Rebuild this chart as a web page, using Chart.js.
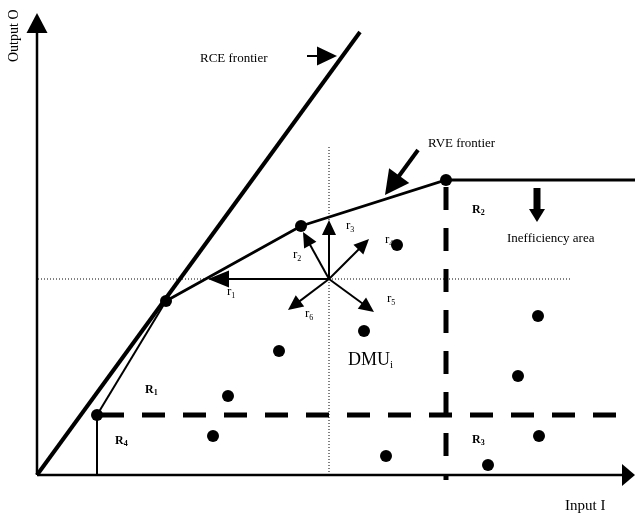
<!DOCTYPE html>
<html>
<head>
<meta charset="utf-8">
<script src="https://cdn.jsdelivr.net/npm/chart.js@4.4.0/dist/chart.umd.min.js"></script>
<style>
  html, body { margin: 0; padding: 0; background: #fff; }
  #wrap { width: 635px; height: 514px; position: relative; }
</style>
</head>
<body>
<div id="wrap"><canvas id="dea"></canvas></div>
<script>
// Données du graphique (unités d'input / output)
const dmuX = [360, 327, 501, 242, 191, 176, 481, 502, 349, 451];
const dmuY = [230, 144, 159, 124, 79, 39, 99, 39, 19, 10];

const vrsX = [60, 129, 264, 409, 598];
const vrsY = [60, 174, 249, 295, 295];
const vrsEfficientX = [60, 129, 264, 409];
const vrsEfficientY = [60, 174, 249, 295];

const crsX = [0, 323];
const crsY = [0, 443];

const dmuCenter = [292, 196];
const dirTipX = [171, 266, 292, 332, 337, 251];
const dirTipY = [196, 243, 255, 236, 163, 165];
const dirNames = ['1', '2', '3', '4', '5', '6'];

// limites des régions
const regionInputLimit = 409;
const regionOutputLimit = 60;

function pts(xs, ys) {
    return xs.map((x, i) => ({ x: x, y: ys[i] }));
}

const black = '#000';

function lineSet(data, width, extra) {
    return Object.assign({
        data: data,
        showLine: true,
        borderColor: black,
        backgroundColor: black,
        borderWidth: width,
        pointRadius: 0,
        pointHoverRadius: 0,
        fill: false,
        tension: 0,
        clip: false
    }, extra || {});
}

const datasets = [];

// points (dessinés au-dessus)
datasets.push({
    data: pts(dmuX, dmuY),
    pointRadius: 6,
    pointBackgroundColor: black,
    pointBorderWidth: 0,
    clip: false
});
datasets.push({
    data: pts(vrsEfficientX, vrsEfficientY),
    pointRadius: 6,
    pointBackgroundColor: black,
    pointBorderWidth: 0,
    clip: false
});

// axes
datasets.push(lineSet([{ x: 0, y: 0 }, { x: 598, y: 0 }], 2.5, { arrow: { len: 13, w: 22 } }));
datasets.push(lineSet([{ x: 0, y: 0 }, { x: 0, y: 462 }], 2.5, { arrow: { len: 20, w: 21 } }));

// frontières
datasets.push(lineSet(pts(crsX, crsY), 4));
datasets.push(lineSet(pts(vrsX.slice(0, 2), vrsY.slice(0, 2)), 2));
datasets.push(lineSet(pts(vrsX.slice(1), vrsY.slice(1)), 2.8));
datasets.push(lineSet([{ x: vrsX[0], y: vrsY[0] }, { x: vrsX[0], y: 0 }], 2));

// limites des régions (tirets)
datasets.push(lineSet([{ x: 64, y: regionOutputLimit }, { x: 585, y: regionOutputLimit }], 5, { borderDash: [23, 18] }));
datasets.push(lineSet([{ x: regionInputLimit, y: 288 }, { x: regionInputLimit, y: -5 }], 5, { borderDash: [23, 18] }));

// pointillés passant par DMUi
datasets.push(lineSet([{ x: 1, y: dmuCenter[1] }, { x: 535, y: dmuCenter[1] }], 1, { borderDash: [1, 2] }));
datasets.push(lineSet([{ x: dmuCenter[0], y: 328 }, { x: dmuCenter[0], y: 0 }], 1, { borderDash: [1, 2] }));

// directions r1..r6
dirTipX.forEach((tx, i) => {
    const big = i === 0;
    datasets.push(lineSet([{ x: dmuCenter[0], y: dmuCenter[1] }, { x: tx, y: dirTipY[i] }], 2,
        { arrow: big ? { len: 21, w: 17 } : { len: 15, w: 14 } }));
});

// flèches d'annotation
datasets.push(lineSet([{ x: 270, y: 419 }, { x: 300, y: 419 }], 2, { arrow: { len: 20, w: 19 } }));
datasets.push(lineSet([{ x: 381, y: 325 }, { x: 348, y: 280 }], 4, { arrow: { len: 24, w: 25 } }));
datasets.push(lineSet([{ x: 500, y: 287 }, { x: 500, y: 253 }], 7, { arrow: { len: 13, w: 16 } }));

// textes
const textLabels = [
    { t: 'RCE frontier', x: 163, y: 413 },
    { t: 'RVE frontier', x: 391, y: 328 },
    { t: 'Inefficiency area', x: 470, y: 233 },
    { t: 'Input I', x: 528, y: -35, size: 15 }
];
const regionLabels = [
    { t: 'R', s: '1', x: 108, y: 82 },
    { t: 'R', s: '2', x: 435, y: 262 },
    { t: 'R', s: '3', x: 435, y: 32 },
    { t: 'R', s: '4', x: 78, y: 31 }
];
const dirLabelX = [190, 256, 309, 348, 350, 268];
const dirLabelY = [180, 217, 246, 232, 173, 158];

const SERIF = '"Liberation Serif", "Times New Roman", serif';

const arrowPlugin = {
    id: 'arrows',
    afterDatasetsUpdate(chart) {
        chart.data.datasets.forEach((ds, i) => {
            if (!ds.arrow) return;
            const meta = chart.getDatasetMeta(i);
            const n = meta.data.length;
            const a = meta.data[n - 2], b = meta.data[n - 1];
            const tip = { x: b.x, y: b.y };
            const dx = tip.x - a.x, dy = tip.y - a.y;
            const d = Math.hypot(dx, dy);
            ds._tip = tip;
            ds._ux = dx / d;
            ds._uy = dy / d;
            // raccourcir la tige pour qu'elle s'arrête sous la pointe
            b.x = tip.x - ds._ux * ds.arrow.len * 0.7;
            b.y = tip.y - ds._uy * ds.arrow.len * 0.7;
        });
    },
    afterDatasetsDraw(chart) {
        const ctx = chart.ctx;
        ctx.save();
        ctx.fillStyle = black;
        chart.data.datasets.forEach((ds) => {
            if (!ds.arrow || !ds._tip) return;
            const t = ds._tip, ux = ds._ux, uy = ds._uy;
            const bx = t.x - ux * ds.arrow.len, by = t.y - uy * ds.arrow.len;
            const px = -uy * ds.arrow.w / 2, py = ux * ds.arrow.w / 2;
            ctx.beginPath();
            ctx.moveTo(t.x, t.y);
            ctx.lineTo(bx + px, by + py);
            ctx.lineTo(bx - px, by - py);
            ctx.closePath();
            ctx.fill();
        });
        ctx.restore();
    }
};

const textPlugin = {
    id: 'texts',
    beforeDatasetsDraw(chart) {
        const ctx = chart.ctx;
        const sx = chart.scales.x, sy = chart.scales.y;
        ctx.save();
        ctx.fillStyle = black;
        ctx.textBaseline = 'alphabetic';
        ctx.textAlign = 'left';

        textLabels.forEach(l => {
            ctx.font = (l.size || 13) + 'px ' + SERIF;
            ctx.fillText(l.t, sx.getPixelForValue(l.x), sy.getPixelForValue(l.y));
        });

        regionLabels.forEach(l => {
            const x = sx.getPixelForValue(l.x), y = sy.getPixelForValue(l.y);
            ctx.font = 'bold 12px ' + SERIF;
            ctx.fillText(l.t, x, y);
            const w = ctx.measureText(l.t).width;
            ctx.font = 'bold 8px ' + SERIF;
            ctx.fillText(l.s, x + w, y + 2);
        });

        dirNames.forEach((s, i) => {
            const x = sx.getPixelForValue(dirLabelX[i]), y = sy.getPixelForValue(dirLabelY[i]);
            ctx.font = '13px ' + SERIF;
            ctx.fillText('r', x, y);
            const w = ctx.measureText('r').width;
            ctx.font = '8px ' + SERIF;
            ctx.fillText(s, x + w, y + 3);
        });

        // DMUi
        {
            const x = sx.getPixelForValue(311), y = sy.getPixelForValue(110);
            ctx.font = '18px ' + SERIF;
            ctx.fillText('DMU', x, y);
            const w = ctx.measureText('DMU').width;
            ctx.font = '11px ' + SERIF;
            ctx.fillText('i', x + w, y + 3);
        }

        // Output O (vertical)
        ctx.save();
        ctx.translate(sx.getPixelForValue(-19), sy.getPixelForValue(413));
        ctx.rotate(-Math.PI / 2);
        ctx.font = '14px ' + SERIF;
        ctx.fillText('Output O', 0, 0);
        ctx.restore();

        ctx.restore();
    }
};

new Chart(document.getElementById('dea'), {
    type: 'scatter',
    data: { datasets: datasets },
    options: {
        responsive: true,
        maintainAspectRatio: false,
        animation: false,
        events: [],
        layout: { autoPadding: false, padding: { left: 37, right: 0, top: 0, bottom: 39 } },
        plugins: {
            legend: { display: false },
            tooltip: { enabled: false },
            title: { display: false }
        },
        scales: {
            x: { type: 'linear', min: 0, max: 598, display: false },
            y: { type: 'linear', min: 0, max: 475, display: false }
        }
    },
    plugins: [textPlugin, arrowPlugin]
});
</script>
</body>
</html>
